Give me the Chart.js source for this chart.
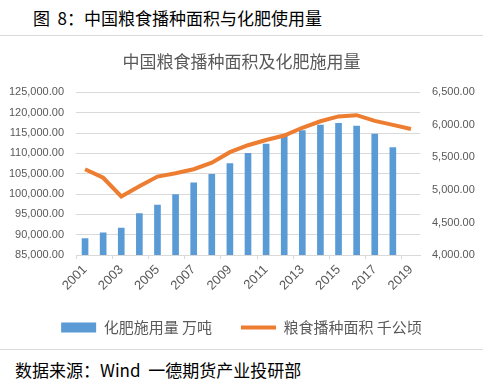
<!DOCTYPE html>
<html>
<head>
<meta charset="utf-8">
<script src="https://cdn.jsdelivr.net/npm/chart.js"></script>
<style>
body { margin: 0; width: 483px; height: 386px; background: #fff; position: relative; overflow: hidden; font-family: "Noto Sans CJK SC", sans-serif; }
#head { position: absolute; left: 33px; top: 6px; font-size: 17px; line-height: 24px; color: #000; white-space: nowrap; }
.rule { position: absolute; left: 0; width: 483px; height: 1px; background: #d9d9d9; }
#box { position: absolute; left: 0; top: 38px; width: 483px; height: 307px; }
#foot { position: absolute; left: 15px; top: 358px; font-size: 17px; line-height: 24px; color: #000; white-space: nowrap; }
</style>
</head>
<body>
<div id="head">图&nbsp; 8：中国粮食播种面积与化肥使用量</div>
<div class="rule" style="top:35px"></div>
<div id="box"><canvas id="chart"></canvas></div>
<div class="rule" style="top:349px"></div>
<div id="foot">数据来源：Wind&nbsp; 一德期货产业投研部</div>
<script>
// years on the x axis
const years = ['2001', '2002', '2003', '2004', '2005', '2006', '2007', '2008', '2009', '2010',
    '2011', '2012', '2013', '2014', '2015', '2016', '2017', '2018', '2019'];
// 化肥施用量 (万吨), right axis; no bar for 2019
const fertilizer = [4254, 4339, 4412, 4637, 4766, 4928, 5108, 5239, 5404, 5562,
    5704, 5839, 5912, 5996, 6023, 5984, 5859, 5653, null];
// 粮食播种面积 (千公顷), left axis
const grainArea = [106100, 104000, 99400, 101900, 104300, 105100, 106100, 107700, 110300, 112000,
    113300, 114400, 116300, 117900, 119100, 119400, 118000, 117000, 116000];

const gray = '#595959';
const gridColor = '#d9d9d9';
const numFont = { family: '"Liberation Sans", Arial, sans-serif', size: 11 };
const cjk = '"Noto Sans CJK SC", sans-serif';

function fmt(v) {
    return v.toLocaleString('en-US', { minimumFractionDigits: 2, maximumFractionDigits: 2 });
}

const ctx = document.getElementById('chart').getContext('2d');
new Chart(ctx, {
    type: 'bar',
    data: {
        labels: years,
        datasets: [
            {
                type: 'bar',
                label: '化肥施用量 万吨',
                data: fertilizer,
                yAxisID: 'y1',
                backgroundColor: '#5b9bd5',
                barThickness: 6,
                pointStyle: 'rect',
                order: 1
            },
            {
                type: 'line',
                label: '粮食播种面积 千公顷',
                data: grainArea,
                yAxisID: 'y',
                borderColor: '#ed7d31',
                backgroundColor: '#ed7d31',
                borderWidth: 4,
                pointRadius: 0,
                tension: 0,
                pointStyle: 'line',
                order: 0
            }
        ]
    },
    options: {
        responsive: true,
        maintainAspectRatio: false,
        animation: false,
        layout: { padding: 0 },
        plugins: {
            title: {
                display: true,
                text: '中国粮食播种面积及化肥施用量',
                color: gray,
                font: { family: cjk, size: 17, weight: 'normal' },
                padding: { top: 13, bottom: 21 }
            },
            legend: {
                position: 'bottom',
                labels: {
                    usePointStyle: true,
                    pointStyleWidth: 35,
                    boxHeight: 10,
                    padding: 29,
                    color: gray,
                    font: { family: cjk, size: 15 },
                    sort: (a, b) => a.datasetIndex - b.datasetIndex
                }
            },
            tooltip: { enabled: false }
        },
        scales: {
            x: {
                offset: true,
                grid: {
                    offset: true,
                    drawOnChartArea: false,
                    drawTicks: true,
                    tickLength: 4,
                    color: c => (c.index % 2 === 0 ? gridColor : 'rgba(0,0,0,0)')
                },
                border: { color: gridColor },
                ticks: {
                    autoSkip: false,
                    maxRotation: 45,
                    minRotation: 45,
                    color: gray,
                    font: { family: numFont.family, size: 13 },
                    padding: 3,
                    callback: function (v, i) { return i % 2 === 0 ? this.getLabelForValue(v) : ''; }
                },
                afterFit: s => { s.height = 36; }
            },
            y: {
                position: 'left',
                min: 85000,
                max: 125000,
                grid: { color: gridColor, drawTicks: false },
                border: { display: false },
                ticks: { stepSize: 5000, color: gray, font: numFont, padding: 12, callback: v => fmt(v) },
                afterFit: s => { s.width = 76; }
            },
            y1: {
                position: 'right',
                min: 4000,
                max: 6500,
                grid: { display: false, drawTicks: false },
                border: { display: false },
                ticks: { stepSize: 500, color: gray, font: numFont, padding: 12, callback: v => fmt(v) },
                afterFit: s => { s.width = 63; }
            }
        }
    }
});
</script>
</body>
</html>
